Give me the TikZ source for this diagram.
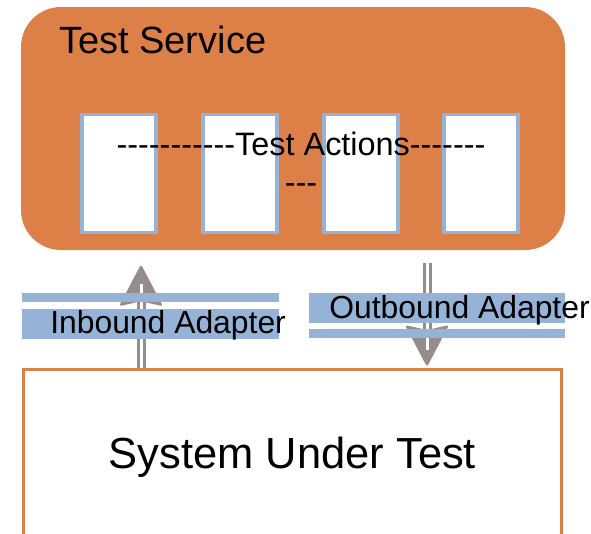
\documentclass[tikz,border=0pt]{standalone}
\usepackage{fontspec}
\setmainfont{Liberation Sans}[Ligatures=TeXOff]
\usetikzlibrary{calc}
\definecolor{svcorange}{RGB}{221,128,72}
\definecolor{adblue}{RGB}{149,179,215}
\definecolor{arrgray}{RGB}{150,140,140}
\begin{document}
\begin{tikzpicture}[x=0.75pt,y=-0.75pt,
  svcbox/.style={fill=svcorange, rounded corners=30pt, inner sep=0pt, minimum width=408pt, minimum height=182.25pt},
  actbox/.style={draw=adblue, line width=2.5pt, fill=white, inner sep=0pt, minimum width=55.5pt, minimum height=88.5pt},
  adbar/.style={fill=adblue, inner sep=0pt, minimum width=192.5pt},
  sutbox/.style={draw=svcorange, line width=2.25pt, fill=white, inner sep=0pt, minimum width=403.5pt, minimum height=131.6pt, font=\fontsize{32.6}{38}\selectfont},
  txt/.style={inner sep=0pt, text=black},
  shaft/.style={draw=arrgray, line width=2.25pt, double=white, double distance=2.25pt},
  head/.style={fill=arrgray, rounded corners=2pt}
]
\useasboundingbox (0,0) rectangle (591,533);
\clip (0,0) rectangle (591,533);
% Test service
\node[svcbox] (svc) at (293,128.5) {};
\node[txt, anchor=base west, font=\fontsize{28.5}{34}\selectfont] (title) at (59,53) {Test Service};
\node[actbox] (a1) at (119,173.5) {};
\node[actbox] (a2) at (240,173.5) {};
\node[actbox] (a3) at (361,173.5) {};
\node[actbox] (a4) at (481,173.5) {};
\node[txt, anchor=base, align=center, font=\fontsize{24.3}{28.5}\selectfont] (acts) at (301,193) {-----------Test Actions-------\\---};
% System under test
\node[sutbox] (sut) at (292.5,457.25) {System Under Test};
% arrows
\coordinate (inx) at (141,0);
\coordinate (outx) at (427,0);
\coordinate (intip) at ($(svc.south -| inx)+(0,14)$);
\fill[head] (intip) -- ++(-22,42) -- ++(22,-5) -- ++(22,5) -- cycle;
\draw[shaft] (sut.north -| inx) -- ($(intip)+(0,20)$);
\coordinate (outtip) at ($(sut.north -| outx)+(0,-1)$);
\fill[head] (outtip) -- ++(-22,-42) -- ++(22,5) -- ++(22,-5) -- cycle;
\draw[shaft] ($(svc.south -| outx)+(0,13)$) -- ($(outtip)+(0,-17)$);
% adapters
\node[adbar, minimum height=6.75pt] (inbar1) at (150.5,297.5) {};
\node[adbar, minimum height=22.5pt] (inbar2) at (150.5,324) {};
\node[adbar, minimum height=22.5pt] (outbar1) at (437,308) {};
\node[adbar, minimum height=6.75pt] (outbar2) at (437,333.5) {};
\node[txt, anchor=base west, font=\fontsize{23.9}{28}\selectfont] (inlab) at (50,333) {Inbound Adapter};
\node[txt, anchor=base west, font=\fontsize{23.9}{28}\selectfont] (outlab) at (329,318) {Outbound Adapter};
\end{tikzpicture}
\end{document}
